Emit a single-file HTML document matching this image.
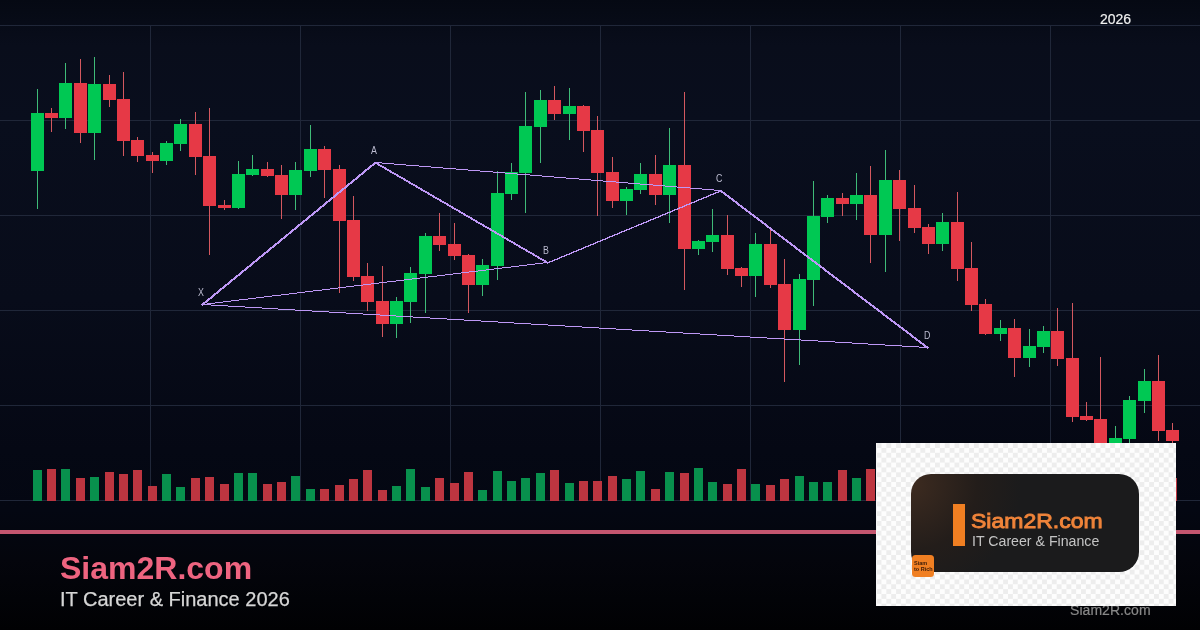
<!DOCTYPE html>
<html lang="en">
<head>
<meta charset="utf-8">
<title>Siam2R.com - IT Career &amp; Finance 2026</title>
<style>
html,body{margin:0;padding:0;background:#020205;}
body{width:1200px;height:630px;overflow:hidden;position:relative;font-family:"Liberation Sans",sans-serif;}
#bg{position:absolute;left:0;top:0;width:1200px;height:630px;
background:linear-gradient(to bottom,
 rgb(5,9,19) 0px, rgb(9,13,27) 45px, rgb(9,14,29) 120px, rgb(8,12,26) 300px,
 rgb(5,8,20) 450px, rgb(4,7,18) 510px, rgb(4,5,12) 560px, rgb(2,3,7) 600px, rgb(1,1,3) 630px);}
svg{position:absolute;left:0;top:0;}
.lbl{font-family:"Liberation Sans",sans-serif;font-size:10.3px;fill:#bcbcd0;}
#pink{position:absolute;left:0;top:530px;width:1200px;height:4px;background:#c4566f;}
#title{position:absolute;left:60px;top:549.6px;font-size:32px;line-height:36px;font-weight:bold;color:#ee6480;white-space:nowrap;}
#sub{position:absolute;left:60px;top:587.4px;font-size:20px;line-height:24px;color:#d6d6d6;-webkit-text-stroke:0.25px #d6d6d6;white-space:nowrap;}
#year{position:absolute;left:1100px;top:11.4px;font-size:14px;line-height:16px;color:#f0f0f0;-webkit-text-stroke:0.2px #f0f0f0;white-space:nowrap;}
#wm{position:absolute;left:1070px;top:602px;font-size:14px;line-height:16px;color:#888888;-webkit-text-stroke:0.2px #888888;letter-spacing:0.05px;white-space:nowrap;}
#logo{position:absolute;left:876px;top:443px;width:300px;height:163px;background:#fdfdfd;overflow:hidden;}
#chk{position:absolute;left:0;top:0;width:300px;height:163px;
background-image:repeating-conic-gradient(#ededed 0% 25%, #fdfdfd 0% 50%);background-size:9.74px 9.74px;background-position:5.47px 0.1px;filter:blur(0.6px);}
#card{position:absolute;left:35px;top:31px;width:228px;height:98px;border-radius:20px;
background:radial-gradient(circle 110px at 0px 10px,#3d2b20 0%,#30241d 30%,#231d1a 60%,#1b1b1c 100%);}
#bar{position:absolute;left:41.5px;top:29.5px;width:12.6px;height:42.5px;background:#f07f22;}
#lt{position:absolute;left:59.5px;top:34.8px;font-size:21px;line-height:24px;font-weight:normal;-webkit-text-stroke:0.9px #f0843a;color:#f0843a;white-space:nowrap;transform:scaleX(1.095);transform-origin:0 0;}
#ls{position:absolute;left:61px;top:58.9px;font-size:14px;line-height:16px;color:#c4c4c4;white-space:nowrap;transform:scaleX(1.012);transform-origin:0 0;}
#ico{position:absolute;left:36px;top:112px;width:22px;height:22px;border-radius:3.5px;background:#f07f22;}
#ico span{position:absolute;left:2px;font-size:5.5px;line-height:6px;font-weight:bold;color:#3a1a08;white-space:nowrap;}
</style>
</head>
<body>
<div id="bg"></div>
<svg width="1200" height="630" viewBox="0 0 1200 630">
<g shape-rendering="crispEdges">
<rect x="150" y="25" width="1" height="476" fill="#202739"/>
<rect x="300" y="25" width="1" height="476" fill="#202739"/>
<rect x="450" y="25" width="1" height="476" fill="#202739"/>
<rect x="600" y="25" width="1" height="476" fill="#202739"/>
<rect x="750" y="25" width="1" height="476" fill="#202739"/>
<rect x="900" y="25" width="1" height="476" fill="#202739"/>
<rect x="1050" y="25" width="1" height="476" fill="#202739"/>
<rect x="0" y="25" width="1200" height="1" fill="#202739"/>
<rect x="0" y="120" width="1200" height="1" fill="#202739"/>
<rect x="0" y="215" width="1200" height="1" fill="#202739"/>
<rect x="0" y="310" width="1200" height="1" fill="#202739"/>
<rect x="0" y="405" width="1200" height="1" fill="#202739"/>
<rect x="0" y="500" width="1200" height="1" fill="#202739"/>
<rect x="33" y="470" width="9" height="31" fill="#08904d"/>
<rect x="47" y="469" width="9" height="32" fill="#bd3540"/>
<rect x="61" y="469" width="9" height="32" fill="#08904d"/>
<rect x="76" y="478" width="9" height="23" fill="#bd3540"/>
<rect x="90" y="477" width="9" height="24" fill="#08904d"/>
<rect x="105" y="472" width="9" height="29" fill="#bd3540"/>
<rect x="119" y="474" width="9" height="27" fill="#bd3540"/>
<rect x="133" y="470" width="9" height="31" fill="#bd3540"/>
<rect x="148" y="486" width="9" height="15" fill="#bd3540"/>
<rect x="162" y="474" width="9" height="27" fill="#08904d"/>
<rect x="176" y="487" width="9" height="14" fill="#08904d"/>
<rect x="191" y="478" width="9" height="23" fill="#bd3540"/>
<rect x="205" y="477" width="9" height="24" fill="#bd3540"/>
<rect x="220" y="484" width="9" height="17" fill="#bd3540"/>
<rect x="234" y="473" width="9" height="28" fill="#08904d"/>
<rect x="248" y="473" width="9" height="28" fill="#08904d"/>
<rect x="263" y="484" width="9" height="17" fill="#bd3540"/>
<rect x="277" y="482" width="9" height="19" fill="#bd3540"/>
<rect x="291" y="476" width="9" height="25" fill="#08904d"/>
<rect x="306" y="489" width="9" height="12" fill="#08904d"/>
<rect x="320" y="489" width="9" height="12" fill="#bd3540"/>
<rect x="335" y="485" width="9" height="16" fill="#bd3540"/>
<rect x="349" y="479" width="9" height="22" fill="#bd3540"/>
<rect x="363" y="470" width="9" height="31" fill="#bd3540"/>
<rect x="378" y="490" width="9" height="11" fill="#bd3540"/>
<rect x="392" y="486" width="9" height="15" fill="#08904d"/>
<rect x="406" y="469" width="9" height="32" fill="#08904d"/>
<rect x="421" y="487" width="9" height="14" fill="#08904d"/>
<rect x="435" y="478" width="9" height="23" fill="#bd3540"/>
<rect x="450" y="483" width="9" height="18" fill="#bd3540"/>
<rect x="464" y="472" width="9" height="29" fill="#bd3540"/>
<rect x="478" y="490" width="9" height="11" fill="#08904d"/>
<rect x="493" y="471" width="9" height="30" fill="#08904d"/>
<rect x="507" y="481" width="9" height="20" fill="#08904d"/>
<rect x="521" y="478" width="9" height="23" fill="#08904d"/>
<rect x="536" y="473" width="9" height="28" fill="#08904d"/>
<rect x="550" y="470" width="9" height="31" fill="#bd3540"/>
<rect x="565" y="483" width="9" height="18" fill="#08904d"/>
<rect x="579" y="481" width="9" height="20" fill="#bd3540"/>
<rect x="593" y="481" width="9" height="20" fill="#bd3540"/>
<rect x="608" y="476" width="9" height="25" fill="#bd3540"/>
<rect x="622" y="479" width="9" height="22" fill="#08904d"/>
<rect x="636" y="471" width="9" height="30" fill="#08904d"/>
<rect x="651" y="489" width="9" height="12" fill="#bd3540"/>
<rect x="665" y="472" width="9" height="29" fill="#08904d"/>
<rect x="680" y="473" width="9" height="28" fill="#bd3540"/>
<rect x="694" y="468" width="9" height="33" fill="#08904d"/>
<rect x="708" y="482" width="9" height="19" fill="#08904d"/>
<rect x="723" y="484" width="9" height="17" fill="#bd3540"/>
<rect x="737" y="469" width="9" height="32" fill="#bd3540"/>
<rect x="751" y="484" width="9" height="17" fill="#08904d"/>
<rect x="766" y="485" width="9" height="16" fill="#bd3540"/>
<rect x="780" y="479" width="9" height="22" fill="#bd3540"/>
<rect x="795" y="476" width="9" height="25" fill="#08904d"/>
<rect x="809" y="482" width="9" height="19" fill="#08904d"/>
<rect x="823" y="482" width="9" height="19" fill="#08904d"/>
<rect x="838" y="470" width="9" height="31" fill="#bd3540"/>
<rect x="852" y="478" width="9" height="23" fill="#08904d"/>
<rect x="866" y="469" width="9" height="32" fill="#bd3540"/>
<rect x="881" y="480" width="9" height="21" fill="#08904d"/>
<rect x="895" y="480" width="9" height="21" fill="#bd3540"/>
<rect x="910" y="480" width="9" height="21" fill="#bd3540"/>
<rect x="924" y="480" width="9" height="21" fill="#bd3540"/>
<rect x="938" y="480" width="9" height="21" fill="#08904d"/>
<rect x="953" y="480" width="9" height="21" fill="#bd3540"/>
<rect x="967" y="480" width="9" height="21" fill="#bd3540"/>
<rect x="981" y="480" width="9" height="21" fill="#bd3540"/>
<rect x="996" y="480" width="9" height="21" fill="#08904d"/>
<rect x="1010" y="480" width="9" height="21" fill="#bd3540"/>
<rect x="1025" y="480" width="9" height="21" fill="#08904d"/>
<rect x="1039" y="480" width="9" height="21" fill="#08904d"/>
<rect x="1053" y="480" width="9" height="21" fill="#bd3540"/>
<rect x="1068" y="480" width="9" height="21" fill="#bd3540"/>
<rect x="1082" y="480" width="9" height="21" fill="#bd3540"/>
<rect x="1096" y="480" width="9" height="21" fill="#bd3540"/>
<rect x="1111" y="480" width="9" height="21" fill="#08904d"/>
<rect x="1125" y="480" width="9" height="21" fill="#08904d"/>
<rect x="1140" y="480" width="9" height="21" fill="#08904d"/>
<rect x="1154" y="480" width="9" height="21" fill="#bd3540"/>
<rect x="1168" y="478" width="9" height="23" fill="#bd3540"/>
<rect x="37" y="89" width="1" height="120" fill="#3fbb78"/>
<rect x="31" y="113" width="13" height="58" fill="#00c853"/>
<rect x="51" y="108" width="1" height="24" fill="#d4585f"/>
<rect x="45" y="113" width="13" height="5" fill="#e63946"/>
<rect x="65" y="63" width="1" height="66" fill="#3fbb78"/>
<rect x="59" y="83" width="13" height="35" fill="#00c853"/>
<rect x="80" y="59" width="1" height="84" fill="#d4585f"/>
<rect x="74" y="83" width="13" height="50" fill="#e63946"/>
<rect x="94" y="57" width="1" height="103" fill="#3fbb78"/>
<rect x="88" y="84" width="13" height="49" fill="#00c853"/>
<rect x="109" y="75" width="1" height="32" fill="#d4585f"/>
<rect x="103" y="84" width="13" height="16" fill="#e63946"/>
<rect x="123" y="72" width="1" height="84" fill="#d4585f"/>
<rect x="117" y="99" width="13" height="42" fill="#e63946"/>
<rect x="137" y="137" width="1" height="25" fill="#d4585f"/>
<rect x="131" y="140" width="13" height="16" fill="#e63946"/>
<rect x="152" y="152" width="1" height="21" fill="#d4585f"/>
<rect x="146" y="155" width="13" height="6" fill="#e63946"/>
<rect x="166" y="141" width="1" height="24" fill="#3fbb78"/>
<rect x="160" y="143" width="13" height="18" fill="#00c853"/>
<rect x="180" y="119" width="1" height="32" fill="#3fbb78"/>
<rect x="174" y="124" width="13" height="20" fill="#00c853"/>
<rect x="195" y="112" width="1" height="63" fill="#d4585f"/>
<rect x="189" y="124" width="13" height="33" fill="#e63946"/>
<rect x="209" y="108" width="1" height="147" fill="#d4585f"/>
<rect x="203" y="156" width="13" height="50" fill="#e63946"/>
<rect x="224" y="200" width="1" height="10" fill="#d4585f"/>
<rect x="218" y="205" width="13" height="3" fill="#e63946"/>
<rect x="238" y="161" width="1" height="48" fill="#3fbb78"/>
<rect x="232" y="174" width="13" height="34" fill="#00c853"/>
<rect x="252" y="155" width="1" height="21" fill="#3fbb78"/>
<rect x="246" y="169" width="13" height="6" fill="#00c853"/>
<rect x="267" y="162" width="1" height="15" fill="#d4585f"/>
<rect x="261" y="169" width="13" height="7" fill="#e63946"/>
<rect x="281" y="165" width="1" height="54" fill="#d4585f"/>
<rect x="275" y="175" width="13" height="20" fill="#e63946"/>
<rect x="295" y="162" width="1" height="48" fill="#3fbb78"/>
<rect x="289" y="170" width="13" height="25" fill="#00c853"/>
<rect x="310" y="125" width="1" height="52" fill="#3fbb78"/>
<rect x="304" y="149" width="13" height="22" fill="#00c853"/>
<rect x="324" y="146" width="1" height="52" fill="#d4585f"/>
<rect x="318" y="149" width="13" height="21" fill="#e63946"/>
<rect x="339" y="165" width="1" height="128" fill="#d4585f"/>
<rect x="333" y="169" width="13" height="52" fill="#e63946"/>
<rect x="353" y="196" width="1" height="85" fill="#d4585f"/>
<rect x="347" y="220" width="13" height="57" fill="#e63946"/>
<rect x="367" y="263" width="1" height="48" fill="#d4585f"/>
<rect x="361" y="276" width="13" height="26" fill="#e63946"/>
<rect x="382" y="266" width="1" height="71" fill="#d4585f"/>
<rect x="376" y="301" width="13" height="23" fill="#e63946"/>
<rect x="396" y="297" width="1" height="41" fill="#3fbb78"/>
<rect x="390" y="301" width="13" height="23" fill="#00c853"/>
<rect x="410" y="267" width="1" height="56" fill="#3fbb78"/>
<rect x="404" y="273" width="13" height="29" fill="#00c853"/>
<rect x="425" y="233" width="1" height="80" fill="#3fbb78"/>
<rect x="419" y="236" width="13" height="38" fill="#00c853"/>
<rect x="439" y="213" width="1" height="38" fill="#d4585f"/>
<rect x="433" y="236" width="13" height="9" fill="#e63946"/>
<rect x="454" y="223" width="1" height="37" fill="#d4585f"/>
<rect x="448" y="244" width="13" height="12" fill="#e63946"/>
<rect x="468" y="254" width="1" height="59" fill="#d4585f"/>
<rect x="462" y="255" width="13" height="30" fill="#e63946"/>
<rect x="482" y="259" width="1" height="37" fill="#3fbb78"/>
<rect x="476" y="265" width="13" height="20" fill="#00c853"/>
<rect x="497" y="171" width="1" height="109" fill="#3fbb78"/>
<rect x="491" y="193" width="13" height="73" fill="#00c853"/>
<rect x="511" y="163" width="1" height="37" fill="#3fbb78"/>
<rect x="505" y="172" width="13" height="22" fill="#00c853"/>
<rect x="525" y="92" width="1" height="121" fill="#3fbb78"/>
<rect x="519" y="126" width="13" height="47" fill="#00c853"/>
<rect x="540" y="90" width="1" height="73" fill="#3fbb78"/>
<rect x="534" y="100" width="13" height="27" fill="#00c853"/>
<rect x="554" y="86" width="1" height="34" fill="#d4585f"/>
<rect x="548" y="100" width="13" height="14" fill="#e63946"/>
<rect x="569" y="88" width="1" height="52" fill="#3fbb78"/>
<rect x="563" y="106" width="13" height="8" fill="#00c853"/>
<rect x="583" y="105" width="1" height="47" fill="#d4585f"/>
<rect x="577" y="106" width="13" height="25" fill="#e63946"/>
<rect x="597" y="116" width="1" height="100" fill="#d4585f"/>
<rect x="591" y="130" width="13" height="43" fill="#e63946"/>
<rect x="612" y="157" width="1" height="51" fill="#d4585f"/>
<rect x="606" y="172" width="13" height="29" fill="#e63946"/>
<rect x="626" y="187" width="1" height="28" fill="#3fbb78"/>
<rect x="620" y="189" width="13" height="12" fill="#00c853"/>
<rect x="640" y="163" width="1" height="31" fill="#3fbb78"/>
<rect x="634" y="174" width="13" height="16" fill="#00c853"/>
<rect x="655" y="155" width="1" height="50" fill="#d4585f"/>
<rect x="649" y="174" width="13" height="21" fill="#e63946"/>
<rect x="669" y="128" width="1" height="95" fill="#3fbb78"/>
<rect x="663" y="165" width="13" height="30" fill="#00c853"/>
<rect x="684" y="92" width="1" height="198" fill="#d4585f"/>
<rect x="678" y="165" width="13" height="84" fill="#e63946"/>
<rect x="698" y="240" width="1" height="15" fill="#3fbb78"/>
<rect x="692" y="241" width="13" height="8" fill="#00c853"/>
<rect x="712" y="209" width="1" height="43" fill="#3fbb78"/>
<rect x="706" y="235" width="13" height="7" fill="#00c853"/>
<rect x="727" y="215" width="1" height="60" fill="#d4585f"/>
<rect x="721" y="235" width="13" height="34" fill="#e63946"/>
<rect x="741" y="267" width="1" height="20" fill="#d4585f"/>
<rect x="735" y="268" width="13" height="8" fill="#e63946"/>
<rect x="755" y="233" width="1" height="64" fill="#3fbb78"/>
<rect x="749" y="244" width="13" height="32" fill="#00c853"/>
<rect x="770" y="230" width="1" height="58" fill="#d4585f"/>
<rect x="764" y="244" width="13" height="41" fill="#e63946"/>
<rect x="784" y="259" width="1" height="123" fill="#d4585f"/>
<rect x="778" y="284" width="13" height="46" fill="#e63946"/>
<rect x="799" y="274" width="1" height="91" fill="#3fbb78"/>
<rect x="793" y="279" width="13" height="51" fill="#00c853"/>
<rect x="813" y="181" width="1" height="125" fill="#3fbb78"/>
<rect x="807" y="216" width="13" height="64" fill="#00c853"/>
<rect x="827" y="195" width="1" height="28" fill="#3fbb78"/>
<rect x="821" y="198" width="13" height="19" fill="#00c853"/>
<rect x="842" y="193" width="1" height="23" fill="#d4585f"/>
<rect x="836" y="198" width="13" height="6" fill="#e63946"/>
<rect x="856" y="173" width="1" height="47" fill="#3fbb78"/>
<rect x="850" y="195" width="13" height="9" fill="#00c853"/>
<rect x="870" y="166" width="1" height="97" fill="#d4585f"/>
<rect x="864" y="195" width="13" height="40" fill="#e63946"/>
<rect x="885" y="150" width="1" height="122" fill="#3fbb78"/>
<rect x="879" y="180" width="13" height="55" fill="#00c853"/>
<rect x="899" y="170" width="1" height="71" fill="#d4585f"/>
<rect x="893" y="180" width="13" height="29" fill="#e63946"/>
<rect x="914" y="185" width="1" height="48" fill="#d4585f"/>
<rect x="908" y="208" width="13" height="20" fill="#e63946"/>
<rect x="928" y="224" width="1" height="30" fill="#d4585f"/>
<rect x="922" y="227" width="13" height="17" fill="#e63946"/>
<rect x="942" y="213" width="1" height="38" fill="#3fbb78"/>
<rect x="936" y="222" width="13" height="22" fill="#00c853"/>
<rect x="957" y="192" width="1" height="89" fill="#d4585f"/>
<rect x="951" y="222" width="13" height="47" fill="#e63946"/>
<rect x="971" y="242" width="1" height="69" fill="#d4585f"/>
<rect x="965" y="268" width="13" height="37" fill="#e63946"/>
<rect x="985" y="299" width="1" height="36" fill="#d4585f"/>
<rect x="979" y="304" width="13" height="30" fill="#e63946"/>
<rect x="1000" y="320" width="1" height="21" fill="#3fbb78"/>
<rect x="994" y="328" width="13" height="6" fill="#00c853"/>
<rect x="1014" y="319" width="1" height="58" fill="#d4585f"/>
<rect x="1008" y="328" width="13" height="30" fill="#e63946"/>
<rect x="1029" y="329" width="1" height="38" fill="#3fbb78"/>
<rect x="1023" y="346" width="13" height="12" fill="#00c853"/>
<rect x="1043" y="326" width="1" height="27" fill="#3fbb78"/>
<rect x="1037" y="331" width="13" height="16" fill="#00c853"/>
<rect x="1057" y="308" width="1" height="58" fill="#d4585f"/>
<rect x="1051" y="331" width="13" height="28" fill="#e63946"/>
<rect x="1072" y="303" width="1" height="119" fill="#d4585f"/>
<rect x="1066" y="358" width="13" height="59" fill="#e63946"/>
<rect x="1086" y="402" width="1" height="19" fill="#d4585f"/>
<rect x="1080" y="416" width="13" height="4" fill="#e63946"/>
<rect x="1100" y="357" width="1" height="113" fill="#d4585f"/>
<rect x="1094" y="419" width="13" height="43" fill="#e63946"/>
<rect x="1115" y="426" width="1" height="42" fill="#3fbb78"/>
<rect x="1109" y="438" width="13" height="24" fill="#00c853"/>
<rect x="1129" y="396" width="1" height="48" fill="#3fbb78"/>
<rect x="1123" y="400" width="13" height="39" fill="#00c853"/>
<rect x="1144" y="369" width="1" height="44" fill="#3fbb78"/>
<rect x="1138" y="381" width="13" height="20" fill="#00c853"/>
<rect x="1158" y="355" width="1" height="86" fill="#d4585f"/>
<rect x="1152" y="381" width="13" height="50" fill="#e63946"/>
<rect x="1172" y="423" width="1" height="23" fill="#d4585f"/>
<rect x="1166" y="430" width="13" height="11" fill="#e63946"/>
<path transform="translate(0,0.5)" d="M375 162h7M382 163h12M394 164h12M406 165h13M419 166h12M431 167h12M443 168h13M456 169h12M468 170h12M480 171h13M493 172h12M505 173h12M517 174h13M530 175h12M542 176h12M554 177h12M566 178h13M579 179h12M591 180h12M603 181h13M616 182h12M628 183h12M640 184h13M653 185h12M665 186h12M677 187h13M690 188h12M702 189h12M714 190h7M543 262h5M535 263h8M527 264h8M519 265h8M511 266h8M502 267h9M494 268h8M486 269h8M478 270h8M469 271h9M461 272h8M453 273h8M445 274h8M437 275h8M428 276h9M420 277h8M412 278h8M404 279h8M396 280h8M387 281h9M379 282h8M371 283h8M363 284h8M354 285h9M346 286h8M338 287h8M330 288h8M322 289h8M313 290h9M305 291h8M297 292h8M289 293h8M281 294h8M272 295h9M264 296h8M256 297h8M248 298h8M239 299h9M231 300h8M223 301h8M215 302h8M207 303h8M202 304h9M211 305h17M228 306h17M245 307h17M262 308h16M278 309h17M295 310h17M312 311h17M329 312h17M346 313h17M363 314h17M380 315h16M396 316h17M413 317h17M430 318h17M447 319h17M464 320h17M481 321h17M498 322h16M514 323h17M531 324h17M548 325h17M565 326h17M582 327h17M599 328h17M616 329h16M632 330h17M649 331h17M666 332h17M683 333h17M700 334h17M717 335h17M734 336h16M750 337h17M767 338h17M784 339h17M801 340h17M818 341h17M835 342h17M852 343h16M868 344h17M885 345h17M902 346h17M919 347h9M374 162h1M376 162h1M373 163h6M372 164h3M377 164h3M370 165h4M378 165h4M369 166h3M380 166h4M368 167h3M382 167h4M367 168h3M384 168h3M365 169h4M385 169h4M364 170h3M387 170h4M363 171h3M389 171h3M362 172h3M390 172h4M361 173h3M392 173h4M359 174h4M394 174h4M358 175h3M396 175h3M357 176h3M397 176h4M356 177h3M399 177h4M355 178h3M401 178h4M353 179h4M403 179h3M352 180h3M404 180h4M351 181h3M406 181h4M350 182h3M408 182h3M348 183h4M409 183h4M347 184h3M411 184h4M346 185h3M413 185h4M345 186h3M415 186h3M344 187h3M416 187h4M342 188h4M418 188h4M341 189h3M420 189h3M340 190h3M421 190h4M720 190h2M339 191h3M423 191h4M718 191h5M337 192h4M425 192h4M715 192h4M721 192h4M336 193h3M427 193h3M713 193h3M723 193h3M335 194h3M428 194h4M710 194h4M724 194h3M334 195h3M430 195h4M708 195h3M725 195h4M333 196h3M432 196h3M706 196h3M727 196h3M331 197h4M433 197h4M703 197h4M728 197h3M330 198h3M435 198h4M701 198h3M729 198h4M329 199h3M437 199h4M698 199h4M731 199h3M328 200h3M439 200h3M696 200h3M732 200h3M326 201h4M440 201h4M694 201h3M733 201h4M325 202h3M442 202h4M691 202h4M735 202h3M324 203h3M444 203h4M689 203h3M736 203h3M323 204h3M446 204h3M686 204h4M737 204h3M322 205h3M447 205h4M684 205h3M738 205h4M320 206h4M449 206h4M682 206h3M740 206h3M319 207h3M451 207h3M679 207h4M741 207h3M318 208h3M452 208h4M677 208h3M742 208h4M317 209h3M454 209h4M674 209h4M744 209h3M316 210h3M456 210h4M672 210h3M745 210h3M314 211h4M458 211h3M670 211h3M746 211h4M313 212h3M459 212h4M667 212h4M748 212h3M312 213h3M461 213h4M665 213h3M749 213h3M311 214h3M463 214h3M662 214h4M750 214h4M309 215h4M464 215h4M660 215h3M752 215h3M308 216h3M466 216h4M658 216h3M753 216h3M307 217h3M468 217h4M655 217h4M754 217h4M306 218h3M470 218h3M653 218h3M756 218h3M305 219h3M471 219h4M650 219h4M757 219h3M303 220h4M473 220h4M648 220h3M758 220h4M302 221h3M475 221h3M646 221h3M760 221h3M301 222h3M476 222h4M643 222h4M761 222h3M300 223h3M478 223h4M641 223h3M762 223h4M298 224h4M480 224h4M638 224h4M764 224h3M297 225h3M482 225h3M636 225h3M765 225h3M296 226h3M483 226h4M634 226h3M766 226h3M295 227h3M485 227h4M631 227h3M767 227h4M294 228h3M487 228h4M629 228h3M769 228h3M292 229h4M489 229h3M626 229h4M770 229h3M291 230h3M490 230h4M624 230h3M771 230h4M290 231h3M492 231h4M621 231h4M773 231h3M289 232h3M494 232h3M619 232h3M774 232h3M288 233h3M495 233h4M617 233h3M775 233h4M286 234h3M497 234h4M614 234h4M777 234h3M285 235h3M499 235h4M612 235h3M778 235h3M284 236h3M501 236h3M609 236h4M779 236h4M283 237h3M502 237h4M607 237h3M781 237h3M281 238h4M504 238h4M605 238h3M782 238h3M280 239h3M506 239h3M602 239h4M783 239h4M279 240h3M507 240h4M600 240h3M785 240h3M278 241h3M509 241h4M597 241h4M786 241h3M277 242h3M511 242h4M595 242h3M787 242h4M275 243h4M513 243h3M593 243h3M789 243h3M274 244h3M514 244h4M590 244h4M790 244h3M273 245h3M516 245h4M588 245h3M791 245h4M272 246h3M518 246h3M585 246h4M793 246h3M270 247h4M519 247h4M583 247h3M794 247h3M269 248h3M521 248h4M581 248h3M795 248h3M268 249h3M523 249h4M578 249h4M796 249h4M267 250h3M525 250h3M576 250h3M798 250h3M266 251h3M526 251h4M573 251h4M799 251h3M264 252h4M528 252h4M571 252h3M800 252h4M263 253h3M530 253h4M569 253h3M802 253h3M262 254h3M532 254h3M566 254h4M803 254h3M261 255h3M533 255h4M564 255h3M804 255h4M259 256h4M535 256h4M561 256h4M806 256h3M258 257h3M537 257h3M559 257h3M807 257h3M257 258h3M538 258h4M557 258h3M808 258h4M256 259h3M540 259h4M554 259h4M810 259h3M255 260h3M542 260h4M552 260h3M811 260h3M253 261h4M544 261h3M549 261h4M812 261h4M252 262h3M545 262h5M814 262h3M251 263h3M547 263h1M815 263h3M250 264h3M816 264h4M249 265h3M818 265h3M247 266h4M819 266h3M246 267h3M820 267h4M245 268h3M822 268h3M244 269h3M823 269h3M242 270h4M824 270h3M241 271h3M825 271h4M240 272h3M827 272h3M239 273h3M828 273h3M238 274h3M829 274h4M236 275h4M831 275h3M235 276h3M832 276h3M234 277h3M833 277h4M233 278h3M835 278h3M231 279h4M836 279h3M230 280h3M837 280h4M229 281h3M839 281h3M228 282h3M840 282h3M227 283h3M841 283h4M225 284h4M843 284h3M224 285h3M844 285h3M223 286h3M845 286h4M222 287h3M847 287h3M220 288h4M848 288h3M219 289h3M849 289h4M218 290h3M851 290h3M217 291h3M852 291h3M216 292h3M853 292h3M214 293h4M854 293h4M213 294h3M856 294h3M212 295h3M857 295h3M211 296h3M858 296h4M210 297h3M860 297h3M208 298h4M861 298h3M207 299h3M862 299h4M206 300h3M864 300h3M205 301h3M865 301h3M203 302h4M866 302h4M202 303h3M868 303h3M201 304h3M869 304h3M202 305h1M870 305h4M872 306h3M873 307h3M874 308h4M876 309h3M877 310h3M878 311h4M880 312h3M881 313h3M882 314h3M883 315h4M885 316h3M886 317h3M887 318h4M889 319h3M890 320h3M891 321h4M893 322h3M894 323h3M895 324h4M897 325h3M898 326h3M899 327h4M901 328h3M902 329h3M903 330h4M905 331h3M906 332h3M907 333h4M909 334h3M910 335h3M911 336h3M912 337h4M914 338h3M915 339h3M916 340h4M918 341h3M919 342h3M920 343h4M922 344h3M923 345h3M924 346h4M926 347h3M927 348h1" stroke="#be98f6" stroke-width="1" fill="none"/>
</g>
<text transform="translate(198,295.8) scale(0.86,1)" class="lbl">X</text>
<text transform="translate(371,153.8) scale(0.86,1)" class="lbl">A</text>
<text transform="translate(543,253.8) scale(0.86,1)" class="lbl">B</text>
<text transform="translate(716,181.8) scale(0.86,1)" class="lbl">C</text>
<text transform="translate(924,338.8) scale(0.86,1)" class="lbl">D</text>
</svg>
<div id="pink"></div>
<div id="title">Siam2R.com</div>
<div id="sub">IT Career &amp; Finance 2026</div>
<div id="year">2026</div>
<div id="wm">Siam2R.com</div>
<div id="logo">
  <div id="chk"></div>
  <div id="card">
    <div id="bar"></div>
    <div id="lt">Siam2R.com</div>
    <div id="ls">IT Career &amp; Finance</div>
  </div>
  <div id="ico"><span style="top:5px">Siam</span><span style="top:11px">to Rich</span></div>
</div>
</body>
</html>
